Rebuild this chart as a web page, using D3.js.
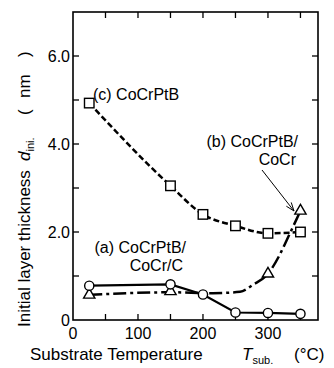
<!DOCTYPE html>
<html><head><meta charset="utf-8">
<script src="https://cdn.jsdelivr.net/npm/d3@7"></script>
<style>body{margin:0;background:#fff}svg{display:block}text{font-family:Arial,"Liberation Sans",sans-serif;fill:#000}</style>
</head><body><div id="c"></div>
<script>
// Data
const tempsA = [25, 150, 200, 250, 300, 350];
const valuesA = [0.78, 0.81, 0.58, 0.17, 0.16, 0.14];          // (a) circles
const tempsB = [25, 150, 300, 350];
const valuesB = [0.57, 0.65, 1.05, 2.48];                      // (b) triangles
const fitTempsB = [25, 150, 215, 257, 277, 300, 318, 329, 350];
const fitValuesB = [0.57, 0.63, 0.61, 0.64, 0.8, 1.05, 1.48, 1.82, 2.48]; // (b) curve
const tempsC = [25, 150, 200, 250, 300, 350];
const valuesC = [4.93, 3.05, 2.40, 2.14, 1.97, 2.0];           // (c) squares
const xTicks = [0, 100, 200, 300];
const xMinor = [50, 150, 250, 350];
const yTicks = [0, 2, 4, 6];
const yTickLabels = ["0", "2.0", "4.0", "6.0"];
const yMinor = [1, 3, 5];

const W = 334, H = 368;
const L = 73, R = 318, T = 12, B = 320;
const svg = d3.select("#c").append("svg").attr("width", W).attr("height", H);
const x = d3.scaleLinear().domain([0, 377]).range([L, R]);
const y = d3.scaleLinear().domain([0, 7]).range([B, T]);

// frame
svg.append("rect").attr("x", L).attr("y", T).attr("width", R - L).attr("height", B - T)
  .attr("fill", "none").attr("stroke", "#000").attr("stroke-width", 1.6);

// ticks (inward, all sides)
const tl = 6;
const g = svg.append("g").attr("stroke", "#000").attr("stroke-width", 1.3);
[...xTicks, ...xMinor].forEach(v => {
  if (v === 0) return;
  g.append("line").attr("x1", x(v)).attr("x2", x(v)).attr("y1", B).attr("y2", B - tl);
  g.append("line").attr("x1", x(v)).attr("x2", x(v)).attr("y1", T).attr("y2", T + tl);
});
[...yTicks, ...yMinor].forEach(v => {
  if (v === 0) return;
  g.append("line").attr("x1", L).attr("x2", L + tl).attr("y1", y(v)).attr("y2", y(v));
  g.append("line").attr("x1", R).attr("x2", R - tl).attr("y1", y(v)).attr("y2", y(v));
});

// tick labels
xTicks.forEach(v => svg.append("text").attr("x", x(v)).attr("y", B + 19)
  .attr("text-anchor", "middle").attr("font-size", 16).text(v));
yTicks.forEach((v, i) => svg.append("text").attr("x", L - 3).attr("y", y(v) + 6)
  .attr("text-anchor", "end").attr("font-size", 16).text(yTickLabels[i]));

// axis titles
const xt = svg.append("text").attr("x", 30).attr("y", 360).attr("font-size", 17);
xt.append("tspan").text("Substrate Temperature");
xt.append("tspan").attr("x", 242).attr("font-style", "italic").text("T");
xt.append("tspan").attr("font-size", 11).attr("dy", 4).text("sub.");
xt.append("tspan").attr("x", 294).attr("dy", -4).text("(°C)");

const yt = svg.append("text").attr("transform", "translate(30,327) rotate(-90)").attr("font-size", 17);
yt.append("tspan").text("Initial layer thickness");
yt.append("tspan").attr("x", 166).attr("font-style", "italic").text("d");
yt.append("tspan").attr("font-size", 11).attr("dy", 4).text("ini.");
yt.append("tspan").attr("x", 212).attr("dy", -4).text("(");
yt.append("tspan").attr("x", 229).text("nm");
yt.append("tspan").attr("x", 270).text(")");

// lines
const line = d3.line().x(d => x(d[0])).y(d => y(d[1]));
svg.append("path").datum(tempsC.map((t, i) => [t, valuesC[i]]))
  .attr("d", line.curve(d3.curveMonotoneX)).attr("fill", "none").attr("stroke", "#000")
  .attr("stroke-width", 2.5).attr("stroke-dasharray", "6,3");
svg.append("path").datum(fitTempsB.map((t, i) => [t, fitValuesB[i]]))
  .attr("d", line.curve(d3.curveMonotoneX)).attr("fill", "none").attr("stroke", "#000")
  .attr("stroke-width", 2.5).attr("stroke-dasharray", "13,4,3,4");
svg.append("path").datum(tempsA.map((t, i) => [t, valuesA[i]]))
  .attr("d", line.curve(d3.curveLinear)).attr("fill", "none").attr("stroke", "#000")
  .attr("stroke-width", 2.2);

// markers
const ms = 9.5;
svg.selectAll(".sq").data(tempsC.map((t, i) => [t, valuesC[i]])).enter().append("rect")
  .attr("x", d => x(d[0]) - ms / 2).attr("y", d => y(d[1]) - ms / 2).attr("width", ms).attr("height", ms)
  .attr("fill", "#fff").attr("stroke", "#000").attr("stroke-width", 1.4);
svg.selectAll(".tr").data(tempsB.map((t, i) => [t, valuesB[i]])).enter().append("path")
  .attr("d", d3.symbol(d3.symbolTriangle, 55))
  .attr("transform", d => `translate(${x(d[0])},${y(d[1])})`)
  .attr("fill", "#fff").attr("stroke", "#000").attr("stroke-width", 1.4);
svg.selectAll(".ci").data(tempsA.map((t, i) => [t, valuesA[i]])).enter().append("circle")
  .attr("cx", d => x(d[0])).attr("cy", d => y(d[1])).attr("r", 4.6)
  .attr("fill", "#fff").attr("stroke", "#000").attr("stroke-width", 1.4);

// annotations
svg.append("text").attr("x", 93).attr("y", 100).attr("font-size", 16).text("(c) CoCrPtB");
svg.append("text").attr("x", 298).attr("y", 147).attr("text-anchor", "end").attr("font-size", 16).text("(b) CoCrPtB/");
svg.append("text").attr("x", 296).attr("y", 165).attr("text-anchor", "end").attr("font-size", 16).text("CoCr");
svg.append("text").attr("x", 186).attr("y", 253).attr("text-anchor", "end").attr("font-size", 16).text("(a) CoCrPtB/");
svg.append("text").attr("x", 183).attr("y", 271).attr("text-anchor", "end").attr("font-size", 16).text("CoCr/C");

// arrow
const ax1 = 262, ay1 = 170, ax2 = 294, ay2 = 211;
svg.append("line").attr("x1", ax1).attr("y1", ay1).attr("x2", ax2).attr("y2", ay2)
  .attr("stroke", "#000").attr("stroke-width", 1);
const ang = Math.atan2(ay2 - ay1, ax2 - ax1);
const hl = 9, ha = 0.35;
svg.append("path").attr("d",
  `M${ax2 - hl * Math.cos(ang - ha)},${ay2 - hl * Math.sin(ang - ha)}L${ax2},${ay2}L${ax2 - hl * Math.cos(ang + ha)},${ay2 - hl * Math.sin(ang + ha)}`)
  .attr("fill", "none").attr("stroke", "#000").attr("stroke-width", 1);
</script></body></html>
